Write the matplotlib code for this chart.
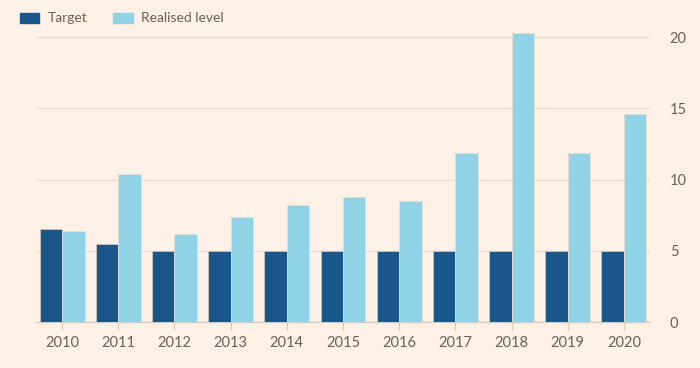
import numpy as np
import matplotlib.pyplot as plt
from matplotlib.patches import Patch

years = ['2010', '2011', '2012', '2013', '2014', '2015', '2016', '2017', '2018', '2019', '2020']
target = [6.5, 5.5, 5.0, 5.0, 5.0, 5.0, 5.0, 5.0, 5.0, 5.0, 5.0]
realised = [6.4, 10.4, 6.2, 7.4, 8.2, 8.8, 8.5, 11.9, 20.3, 11.85, 14.6]
yticks = [0, 5, 10, 15, 20]

bg = '#fff1e5'
dark = '#1a568a'
light = '#90d2e6'
txt = '#66605c'

plt.rcParams['font.family'] = ['Lato', 'DejaVu Sans']

fig = plt.figure(figsize=(7, 3.68), dpi=100, facecolor=bg)
ax = fig.add_axes([0.051, 0.125, 0.878, 0.793], facecolor=bg)

x = np.arange(len(years))
w = 0.4
ax.bar(x - w / 2, target, w, color=dark, edgecolor='#c9c4be', linewidth=0.6, zorder=3)
ax.bar(x + w / 2, realised, w, color=light, edgecolor='#e6ddd3', linewidth=0.6, zorder=3)

ax.set_xlim(-0.47, len(years) - 0.53)
ax.set_ylim(0, 20.5)
ax.set_xticks(x)
ax.set_xticklabels(years)
ax.set_yticks(yticks)
ax.yaxis.tick_right()
ax.grid(axis='y', color='#e9ded5', linewidth=1, zorder=0)

for s in ['top', 'left', 'right']:
    ax.spines[s].set_visible(False)
ax.spines['bottom'].set_color('#d6cdc5')
ax.spines['bottom'].set_linewidth(1)

ax.tick_params(axis='x', colors='#d6cdc5', length=6, width=1, pad=4, labelsize=10.5, labelcolor=txt)
ax.tick_params(axis='y', length=0, pad=14, labelsize=10.5, labelcolor=txt)

handles = [Patch(color=dark), Patch(color=light)]
fig.legend(handles, ['Target', 'Realised level'], loc='upper left',
           bbox_to_anchor=(0.01, 1.0), ncol=2, frameon=False, fontsize=10,
           labelcolor=txt, handlelength=1.4, handleheight=0.7, columnspacing=1.9,
           handletextpad=0.6)

fig.savefig('out.png', dpi=100, facecolor=bg)
